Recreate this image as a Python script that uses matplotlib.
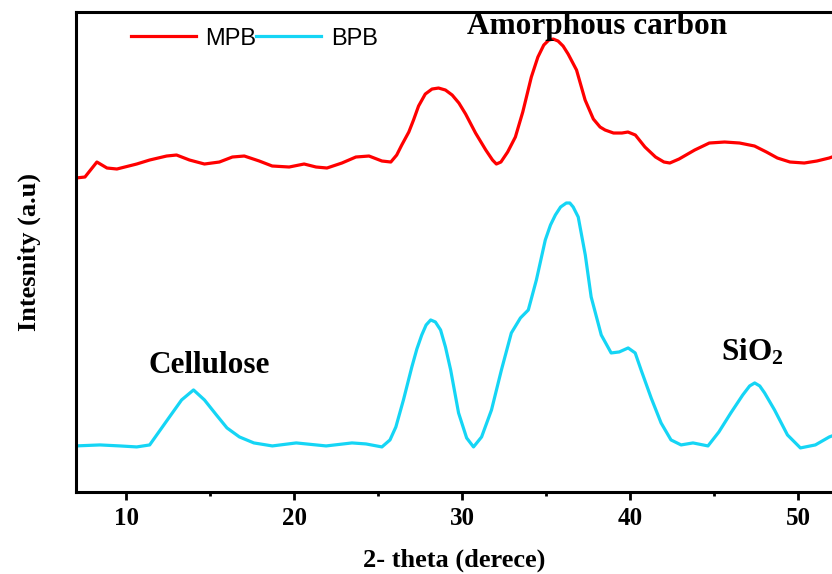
import matplotlib

matplotlib.use("Agg")
import matplotlib.pyplot as plt
from matplotlib.ticker import MultipleLocator

# 2-theta positions and intensities (arbitrary units)
mpb_theta = [7.0, 7.55, 8.26, 8.86, 9.45, 10.63, 11.40, 12.41, 13.00, 13.77,
             14.66, 15.55, 16.32, 17.03, 17.92, 18.69, 19.70, 20.59, 21.30, 21.95,
             22.84, 23.67, 24.45, 25.22, 25.75, 26.10, 26.40, 26.82, 27.10, 27.40,
             27.80, 28.20, 28.59, 29.00, 29.40, 29.80, 30.20, 30.79, 31.40, 31.80,
             32.03, 32.30, 32.70, 33.16, 33.60, 34.11, 34.50, 34.85, 35.15, 35.41,
             35.70, 36.00, 36.30, 36.80, 37.31, 37.80, 38.20, 38.50, 39.00, 39.50,
             39.86, 40.30, 40.87, 41.50, 42.00, 42.35, 42.90, 43.83, 44.70, 45.61,
             46.50, 47.39, 48.10, 48.75, 49.50, 50.35, 51.10, 51.83, 52.0]
mpb_intensity = [314, 315, 330, 324, 323, 328, 332, 336, 337, 332,
                 328, 330, 335, 336, 331, 326, 325, 328, 325, 324,
                 329, 335, 336, 331, 330, 337, 347, 360, 372, 386,
                 398, 403, 404, 402, 397, 389, 378, 359, 342, 332,
                 328, 330, 340, 355, 380, 415, 435, 447, 452, 453,
                 451, 446, 438, 422, 392, 373, 365, 362, 359, 359,
                 360, 357, 345, 335, 330, 329, 333, 342, 349, 350,
                 349, 346, 340, 334, 330, 329, 331, 334, 335]

bpb_theta = [7.0, 8.44, 9.63, 10.63, 11.40, 12.58, 13.30, 14.01, 14.66, 15.37,
             16.00, 16.74, 17.60, 18.70, 20.12, 21.90, 23.44, 24.27, 25.22, 25.70,
             26.05, 26.50, 27.00, 27.30, 27.59, 27.85, 28.12, 28.40, 28.71, 29.00,
             29.31, 29.78, 30.26, 30.67, 31.15, 31.74, 32.33, 32.92, 33.46, 33.93,
             34.41, 34.94, 35.25, 35.54, 35.85, 36.19, 36.40, 36.60, 36.90, 37.32,
             37.67, 38.27, 38.86, 39.34, 39.87, 40.29, 40.64, 41.24, 41.83, 42.42,
             43.02, 43.73, 44.62, 45.27, 45.98, 46.69, 47.10, 47.40, 47.70, 47.99,
             48.58, 49.35, 50.12, 51.01, 51.84, 52.0]
bpb_intensity = [46, 47, 46, 45, 47, 75, 92, 102, 92, 77,
                 64, 55, 49, 46, 49, 46, 49, 48, 45, 52,
                 65, 92, 125, 143, 157, 167, 172, 170, 162, 145,
                 122, 79, 54, 45, 55, 82, 122, 159, 174, 182,
                 212, 252, 267, 277, 285, 289, 289, 285, 275, 237,
                 195, 157, 139, 140, 144, 139, 122, 94, 69, 52,
                 47, 49, 46, 60, 79, 97, 106, 109, 106, 99,
                 82, 57, 44, 47, 55, 56]

series_names = ["MPB", "BPB"]
series_colors = ["#FF0000", "#15D5F5"]

peak_labels = ["Amorphous carbon", "Cellulose", "SiO$_2$"]
peak_label_pos = [(38.0, 466), (14.97, 126), (47.26, 140)]

serif = "Liberation Serif"
plt.rcParams["mathtext.fontset"] = "custom"
plt.rcParams["mathtext.rm"] = "Liberation Serif:bold"
plt.rcParams["mathtext.it"] = "Liberation Serif:bold"
plt.rcParams["mathtext.bf"] = "Liberation Serif:bold"

fig = plt.figure(figsize=(8.32, 5.74), dpi=100)
ax = fig.add_axes([0.091, 0.143, 0.909, 0.836])

ax.plot(mpb_theta, mpb_intensity, color=series_colors[0], linewidth=2.3,
        label=series_names[0], solid_joinstyle="round")
ax.plot(bpb_theta, bpb_intensity, color=series_colors[1], linewidth=2.3,
        label=series_names[1], solid_joinstyle="round")

ax.set_xlim(7, 52)
ax.set_ylim(0, 480)

for text, (x, y) in zip(peak_labels, peak_label_pos):
    ax.text(x, y, text, ha="center", va="center", fontsize=22.5,
            fontweight="bold", family=serif)

ax.xaxis.set_major_locator(MultipleLocator(10))
ax.xaxis.set_minor_locator(MultipleLocator(5))
ax.tick_params(axis="x", which="major", direction="out", length=6, width=2,
               pad=5, labelsize=18)
ax.tick_params(axis="x", which="minor", direction="out", length=3, width=2)
ax.set_yticks([])
for label in ax.get_xticklabels():
    label.set_fontweight("bold")
    label.set_family(serif)

for side in ("left", "bottom", "top"):
    ax.spines[side].set_linewidth(2.2)
ax.spines["right"].set_visible(False)

ax.set_xlabel("2- theta (derece)", fontsize=19, fontweight="bold",
              family=serif, labelpad=13)
ax.set_ylabel("Intesnity (a.u)", fontsize=19, fontweight="bold",
              family=serif, labelpad=25)

ax.legend(loc="upper left", bbox_to_anchor=(0.045, 1.012), ncol=2,
          frameon=False, handlelength=2.75, handletextpad=0.4,
          columnspacing=0.0, prop={"family": "Liberation Sans", "size": 17})

fig.savefig("out.png", dpi=100)
